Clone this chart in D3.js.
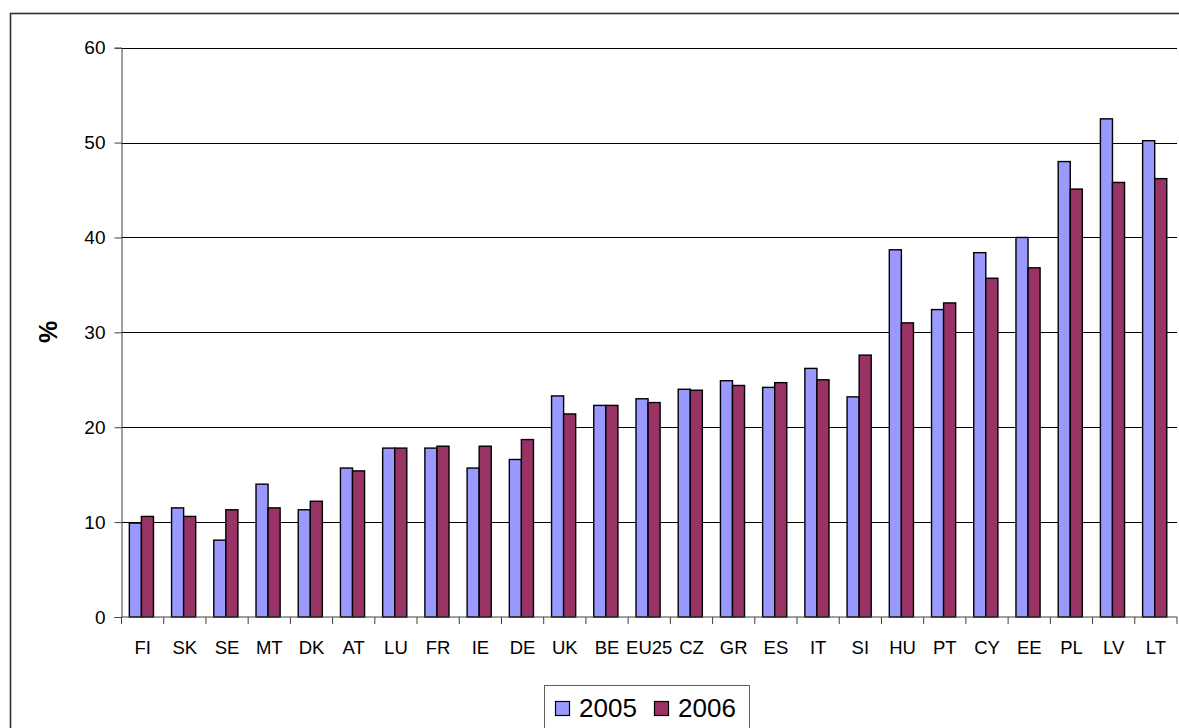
<!DOCTYPE html>
<html>
<head>
<meta charset="utf-8">
<script src="https://cdn.jsdelivr.net/npm/d3@7"></script>
<style>
  html, body { margin: 0; padding: 0; background: #fff; }
  svg { display: block; font-family: "Liberation Sans", Arial, sans-serif; }
</style>
</head>
<body>
<svg id="chart" width="1179" height="728"></svg>
<script>
// Share of people by country, two survey years (%)
const countries = ["FI","SK","SE","MT","DK","AT","LU","FR","IE","DE","UK","BE","EU25","CZ","GR","ES","IT","SI","HU","PT","CY","EE","PL","LV","LT"];
const values2005 = [9.9,11.5,8.1,14.0,11.3,15.7,17.8,17.8,15.7,16.6,23.3,22.3,23.0,24.0,24.9,24.2,26.2,23.2,38.7,32.4,38.4,40.0,48.0,52.5,50.2];
const values2006 = [10.6,10.6,11.3,11.5,12.2,15.4,17.8,18.0,18.0,18.7,21.4,22.3,22.6,23.9,24.4,24.7,25.0,27.6,31.0,33.1,35.7,36.8,45.1,45.8,46.2];
const seriesNames = ["2005","2006"];
const yTicks = [0,10,20,30,40,50,60];
const seriesColors = ["#9999FF","#993366"];

const svg = d3.select("#chart");

// outer chart frame
svg.append("rect")
  .attr("x", 10.5).attr("y", 13.5)
  .attr("width", 1200).attr("height", 740)
  .attr("fill", "none").attr("stroke", "#303030").attr("stroke-width", 1.6);

const plot = { left: 121.5, right: 1177, top: 47.7, bottom: 617 };

const x0 = d3.scaleBand().domain(countries).range([plot.left, plot.right]).paddingInner(0).paddingOuter(0);
const x1 = d3.scaleBand().domain(seriesNames).range([0, x0.bandwidth()]).paddingInner(0).paddingOuter(0.75);
const y = d3.scaleLinear().domain([0, 60]).range([plot.bottom, plot.top]);

// horizontal gridlines
svg.append("g").selectAll("line")
  .data(yTicks.filter(d => d > 0))
  .join("line")
  .attr("x1", plot.left).attr("x2", plot.right)
  .attr("y1", d => Math.round(y(d)) + 0.5).attr("y2", d => Math.round(y(d)) + 0.5)
  .attr("stroke", "#000").attr("stroke-width", 1);

// bars
const rows = countries.map((c, i) => ({ country: c, vals: [values2005[i], values2006[i]] }));
const groups = svg.append("g").selectAll("g")
  .data(rows)
  .join("g")
  .attr("transform", d => `translate(${x0(d.country) - 1.2},0)`);

groups.selectAll("rect")
  .data(d => d.vals.map((v, k) => ({ key: seriesNames[k], value: v, k })))
  .join("rect")
  .attr("x", d => x1(d.key))
  .attr("y", d => y(d.value))
  .attr("width", x1.bandwidth())
  .attr("height", d => y(0) - y(d.value))
  .attr("fill", d => seriesColors[d.k])
  .attr("stroke", "#000").attr("stroke-width", 1.4);

// y axis
const yAxis = d3.axisLeft(y).tickValues(yTicks).tickSize(7).tickPadding(9).tickFormat(d3.format("d"));
const gy = svg.append("g").attr("transform", `translate(${plot.left},0)`).call(yAxis);
gy.select(".domain").attr("stroke", "#404040");
gy.selectAll(".tick line").attr("stroke", "#404040");
gy.selectAll(".tick text").attr("font-size", 19).attr("fill", "#000").attr("font-family", "Liberation Sans, Arial, sans-serif");

// x axis: line, boundary ticks, category labels
const gx = svg.append("g");
gx.append("line")
  .attr("x1", plot.left).attr("x2", plot.right)
  .attr("y1", plot.bottom).attr("y2", plot.bottom)
  .attr("stroke", "#404040");
const bounds = countries.map(c => x0(c)).concat([plot.right]);
gx.selectAll("line.tk")
  .data(bounds)
  .join("line").attr("class", "tk")
  .attr("x1", d => d).attr("x2", d => d)
  .attr("y1", plot.bottom).attr("y2", plot.bottom + 7)
  .attr("stroke", "#404040");
gx.selectAll("text")
  .data(countries)
  .join("text")
  .attr("x", d => x0(d) + x0.bandwidth() / 2)
  .attr("y", 654)
  .attr("text-anchor", "middle")
  .attr("font-size", 18.5)
  .attr("fill", "#000")
  .text(d => d);

// y axis title
svg.append("text")
  .attr("transform", "translate(57,332) rotate(-90)")
  .attr("text-anchor", "middle")
  .attr("font-size", 25)
  .attr("font-weight", "bold")
  .attr("fill", "#000")
  .text("%");

// legend
const legend = svg.append("g");
legend.append("rect")
  .attr("x", 544.5).attr("y", 685.5)
  .attr("width", 205).attr("height", 60)
  .attr("fill", "#fff").attr("stroke", "#606060").attr("stroke-width", 1);
const legendItems = legend.selectAll("g.item")
  .data(seriesNames)
  .join("g").attr("class", "item")
  .attr("transform", (d, i) => `translate(${555 + i * 99},0)`);
legendItems.append("rect")
  .attr("x", 0.5).attr("y", 701.5)
  .attr("width", 14).attr("height", 14)
  .attr("fill", (d, i) => seriesColors[i])
  .attr("stroke", "#000").attr("stroke-width", 1.2);
legendItems.append("text")
  .attr("x", 24).attr("y", 716.5)
  .attr("font-size", 26)
  .attr("fill", "#000")
  .text(d => d);
</script>
</body>
</html>
